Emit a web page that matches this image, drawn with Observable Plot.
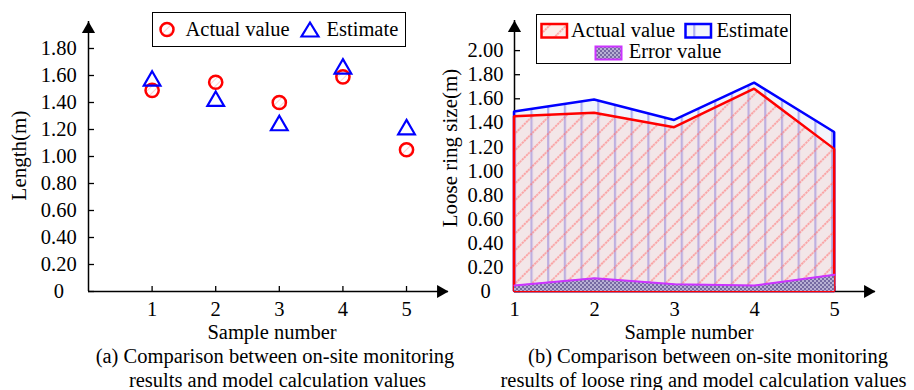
<!DOCTYPE html>
<html><head><meta charset="utf-8">
<script src="https://cdn.jsdelivr.net/npm/d3@7"></script>
<script src="https://cdn.jsdelivr.net/npm/@observablehq/plot@0.6"></script>
<style>
body{margin:0;background:#fff;}
#wrap{position:relative;width:914px;height:390px;overflow:hidden;font-family:"Liberation Serif","Times New Roman",serif;color:#000;background:#fff;}
.abs{position:absolute;}
.t{position:absolute;font-size:20.5px;line-height:20px;white-space:nowrap;}
.cap{position:absolute;font-size:20.5px;line-height:20px;white-space:nowrap;transform:translateX(-50%);}
.box{position:absolute;border:1.5px solid #000;box-sizing:border-box;}
</style></head>
<body>
<div id="wrap">
<svg width="0" height="0" style="position:absolute">
 <defs>
  <pattern id="pAct" patternUnits="userSpaceOnUse" width="11.8" height="11.8" patternTransform="rotate(45)">
   <rect width="11.8" height="11.8" fill="rgba(243,170,152,0.2)"/>
   <line x1="5.9" y1="0" x2="5.9" y2="11.8" stroke="rgba(255,110,110,0.6)" stroke-width="1.8" stroke-dasharray="2.2 0.8"/>
  </pattern>
  <pattern id="pEst" patternUnits="userSpaceOnUse" width="16.7" height="10">
   <rect width="16.7" height="10" fill="#f3f5fc"/>
   <line x1="8" y1="0" x2="8" y2="10" stroke="#b0b0f2" stroke-width="2.2"/>
  </pattern>
  <pattern id="pErr" patternUnits="userSpaceOnUse" width="4" height="4">
   <rect width="4" height="4" fill="#b8b0d4"/>
   <rect width="2" height="2" fill="#766aa2"/>
   <rect x="2" y="2" width="2" height="2" fill="#766aa2"/>
  </pattern>
  <pattern id="pCirc" patternUnits="userSpaceOnUse" width="5" height="5" patternTransform="rotate(45)">
   <line x1="2.5" y1="0" x2="2.5" y2="5" stroke="rgba(255,60,60,0.25)" stroke-width="1"/>
  </pattern>
 </defs>
</svg>
<div id="left" class="abs" style="left:0;top:0"></div>
<div id="right" class="abs" style="left:440px;top:0"></div>

<!-- left legend -->
<div class="box" style="left:152px;top:12px;width:254px;height:35px;"></div>
<svg class="abs" style="left:152px;top:12px" width="254" height="35">
 <circle cx="15" cy="17.5" r="6.5" fill="url(#pCirc)" stroke="#ff0000" stroke-width="2.5"/>
 <path d="M158,10.5 L166.5,24.5 L149.5,24.5 Z" fill="none" stroke="#0000ff" stroke-width="2.2"/>
</svg>
<div class="t" style="left:185.5px;top:19px">Actual value</div>
<div class="t" style="left:326.5px;top:19px">Estimate</div>

<!-- right legend -->
<div class="box" style="left:535.7px;top:14.3px;width:255px;height:49.7px;"></div>
<svg class="abs" style="left:535.7px;top:14.3px" width="255" height="50">
 <rect x="5.5" y="10" width="25.5" height="13.5" fill="url(#pAct)" stroke="#ff0000" stroke-width="2.5"/>
 <rect x="149.5" y="10" width="25.5" height="13.5" fill="url(#pEst)" stroke="#0000ff" stroke-width="2.5"/>
 <rect x="59.5" y="32.5" width="26" height="13" fill="url(#pErr)" stroke="#cc33ff" stroke-width="2"/>
</svg>
<div class="t" style="left:571px;top:20.4px">Actual value</div>
<div class="t" style="left:716.5px;top:20.4px">Estimate</div>
<div class="t" style="left:628.7px;top:41.4px">Error value</div>

<!-- captions -->
<div class="cap" style="left:275px;top:346.4px">(a) Comparison between on-site monitoring</div>
<div class="cap" style="left:277.5px;top:369.8px">results and model calculation values</div>
<div class="cap" style="left:708px;top:346.4px">(b) Comparison between on-site monitoring</div>
<div class="cap" style="left:703.5px;top:369.8px">results of loose ring and model calculation values</div>
</div>
<script>
// ---- data ----
const samples = [1, 2, 3, 4, 5];
const lengthActual = [1.49, 1.55, 1.40, 1.59, 1.05];
const lengthEstimate = [1.56, 1.41, 1.23, 1.65, 1.20];
const ringActual = [1.45, 1.48, 1.36, 1.68, 1.18];
const ringEstimate = [1.49, 1.59, 1.42, 1.73, 1.32];
const ringError = [0.05, 0.11, 0.06, 0.05, 0.14];
const xTicks = [1, 2, 3, 4, 5];
const yTicksLeft = [0, 0.2, 0.4, 0.6, 0.8, 1.0, 1.2, 1.4, 1.6, 1.8];
const yTicksRight = [0, 0.2, 0.4, 0.6, 0.8, 1.0, 1.2, 1.4, 1.6, 1.8, 2.0];
const xDomainLeft = [0, 5.66], yDomainLeft = [0, 2.0];
const xDomainRight = [1, 5.51], yDomainRight = [0, 2.25];

const FONT = '"Liberation Serif","Times New Roman",serif';
const fmtY = d => d === 0 ? "0" : d.toFixed(2);
const style = {fontFamily: FONT, fontSize: "20.5px", color: "#000", background: "transparent", overflow: "visible"};

const leftData = samples.map((s, i) => ({s, actual: lengthActual[i], est: lengthEstimate[i]}));
const rightData = samples.map((s, i) => ({s, actual: ringActual[i], est: ringEstimate[i], err: ringError[i]}));

function axesMarks(xd, yd, xt, yt, yPad) {
  return [
    Plot.ruleY([yd[0]], {stroke: "#000", strokeWidth: 1.5}),
    Plot.ruleX([xd[0]], {stroke: "#000", strokeWidth: 1.5}),
    Plot.dot([0], {x: () => xd[0], y: () => yd[1], symbol: "triangle2", r: 6.3, fill: "#000", stroke: "none", dy: 7.6}),
    Plot.dot([0], {x: () => xd[1], y: () => yd[0], symbol: "triangle2", r: 6.3, fill: "#000", stroke: "none", rotate: 90, dx: -7.6}),
    Plot.axisX(xt, {tickSize: -5, tickPadding: 15, tickFormat: d => String(d), label: null, strokeWidth: 1.3, fontFamily: FONT}),
    Plot.axisY(yt, {tickSize: -6, tickPadding: yPad, textAnchor: "middle", tickFormat: fmtY, label: null, strokeWidth: 1.3, fontFamily: FONT})
  ];
}

const left = Plot.plot({
  width: 460, height: 345,
  marginLeft: 88, marginRight: 12, marginTop: 21, marginBottom: 54,
  x: {domain: xDomainLeft}, y: {domain: yDomainLeft},
  style,
  marks: [
    ...axesMarks(xDomainLeft, yDomainLeft, xTicks, yTicksLeft, 35.7),
    Plot.dot(leftData, {x: "s", y: "actual", r: 6.6, stroke: "#ff0000", strokeWidth: 2.5, fill: "url(#pCirc)"}),
    Plot.dot(leftData, {x: "s", y: "est", symbol: "triangle", r: 6.2, stroke: "#0000ff", strokeWidth: 2.2, fill: "none"}),
    Plot.text(["Length(m)"], {frameAnchor: "left", textAnchor: "middle", lineAnchor: "middle", rotate: -90, dx: -69, dy: -1, fontSize: 21, fontFamily: FONT}),
    Plot.text(["Sample number"], {frameAnchor: "bottom", textAnchor: "middle", lineAnchor: "middle", dy: 41.4, dx: 3.5, fontSize: 20.5, fontFamily: FONT})
  ]
});
document.getElementById("left").append(left);

const right = Plot.plot({
  width: 474, height: 345,
  marginLeft: 74, marginRight: 39, marginTop: 20, marginBottom: 54,
  x: {domain: xDomainRight}, y: {domain: yDomainRight},
  style,
  marks: [
    ...axesMarks(xDomainRight, yDomainRight, xTicks, yTicksRight, 35),
    Plot.areaY(rightData, {x: "s", y: "est", fill: "url(#pEst)", stroke: "#0000ff", strokeWidth: 2.5, strokeLinejoin: "miter"}),
    Plot.areaY(rightData, {x: "s", y: "actual", fill: "url(#pAct)", stroke: "#ff0000", strokeWidth: 2.5, strokeLinejoin: "miter"}),
    Plot.areaY(rightData, {x: "s", y: "err", fill: "url(#pErr)"}),
    Plot.lineY(rightData, {x: "s", y: "err", stroke: "#cc33ff", strokeWidth: 2}),
    Plot.text(["Loose ring size(m)"], {frameAnchor: "left", textAnchor: "middle", lineAnchor: "middle", rotate: -90, dx: -64.5, dy: -8, fontSize: 21, fontFamily: FONT}),
    Plot.text(["Sample number"], {frameAnchor: "bottom", textAnchor: "middle", lineAnchor: "middle", dy: 41.4, dx: -6, fontSize: 20.5, fontFamily: FONT})
  ]
});
document.getElementById("right").append(right);
</script>
</body></html>
